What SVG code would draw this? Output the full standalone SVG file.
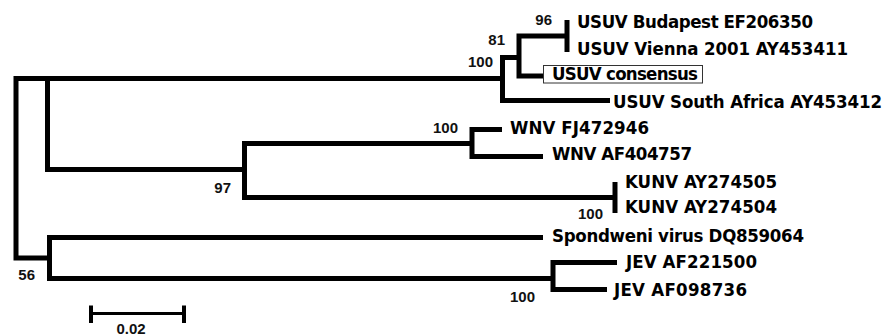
<svg xmlns="http://www.w3.org/2000/svg" width="888" height="336" viewBox="0 0 888 336">
<style>
.e{fill:none;stroke:#000;stroke-width:5;stroke-linejoin:miter;stroke-linecap:butt}
.z{fill:none;stroke:#000;stroke-width:5;stroke-linecap:square}
.lb{font-family:"DejaVu Sans Condensed","DejaVu Sans",sans-serif;font-weight:bold;font-stretch:condensed;font-size:18.5px;fill:#000}
.bs{font-family:"Liberation Sans",Arial,sans-serif;font-weight:bold;font-size:15px;fill:#111}
.sb{fill:none;stroke:#000}
</style>
<rect width="888" height="336" fill="#fff"/>
<g id="connectors">
<path class="e" d="M47.5 78.5 H16 V258 H49.5"/>
<path class="e" d="M502.5 78.5 H47.5 V169.5 H244.5"/>
<path class="e" d="M519 57.5 H502.5 V100.5 H610"/>
<path class="e" d="M567 36 H519 V76 H543"/>
<path class="z" d="M567 22.5 V49.5"/>
<path class="e" d="M472 143.5 H244.5 V197.5 H615"/>
<path class="e" d="M502 129.5 H472 V156.5 H543"/>
<path class="z" d="M615 184.5 V210.5"/>
<path class="e" d="M543 237.5 H49.5 V278.5 H553"/>
<path class="e" d="M617 262.5 H553 V289.5 H607"/>
</g>
<g id="leaf-budapest"><text class="lb" x="577" y="27.5" textLength="236">USUV Budapest EF206350</text></g>
<g id="leaf-vienna"><text class="lb" x="577" y="55" textLength="271">USUV Vienna 2001 AY453411</text></g>
<g id="leaf-consensus"><rect x="543.5" y="65.5" width="159" height="17.5" fill="#fff" stroke="#333" stroke-width="1"/><text class="lb" x="552" y="80" textLength="146">USUV consensus</text></g>
<g id="leaf-southafrica"><text class="lb" x="613" y="108" textLength="269">USUV South Africa AY453412</text></g>
<g id="leaf-wnv1"><text class="lb" x="510" y="134" textLength="139">WNV FJ472946</text></g>
<g id="leaf-wnv2"><text class="lb" x="552" y="160" textLength="140">WNV AF404757</text></g>
<g id="leaf-kunv1"><text class="lb" x="625" y="188" textLength="152">KUNV AY274505</text></g>
<g id="leaf-kunv2"><text class="lb" x="625" y="213" textLength="152">KUNV AY274504</text></g>
<g id="leaf-spondweni"><text class="lb" x="552" y="242" textLength="252">Spondweni virus DQ859064</text></g>
<g id="leaf-jev1"><text class="lb" x="626" y="268" textLength="131">JEV AF221500</text></g>
<g id="leaf-jev2"><text class="lb" x="614" y="296" textLength="133">JEV AF098736</text></g>
<g id="bootstrap">
<text class="bs" x="552" y="25" text-anchor="end">96</text>
<text class="bs" x="505" y="45" text-anchor="end">81</text>
<text class="bs" x="493" y="67" text-anchor="end">100</text>
<text class="bs" x="458" y="133" text-anchor="end">100</text>
<text class="bs" x="231" y="193" text-anchor="end">97</text>
<text class="bs" x="603" y="219" text-anchor="end">100</text>
<text class="bs" x="35" y="280" text-anchor="end">56</text>
<text class="bs" x="535" y="302" text-anchor="end">100</text>
</g>
<g id="scale">
<path class="sb" stroke-width="3" d="M90 313.5 H185"/>
<path class="sb" stroke-width="4" d="M91 305.5 V323 M184 305.5 V323"/>
<text class="bs" x="131" y="334" text-anchor="middle" font-size="13">0.02</text>
</g>
</svg>
